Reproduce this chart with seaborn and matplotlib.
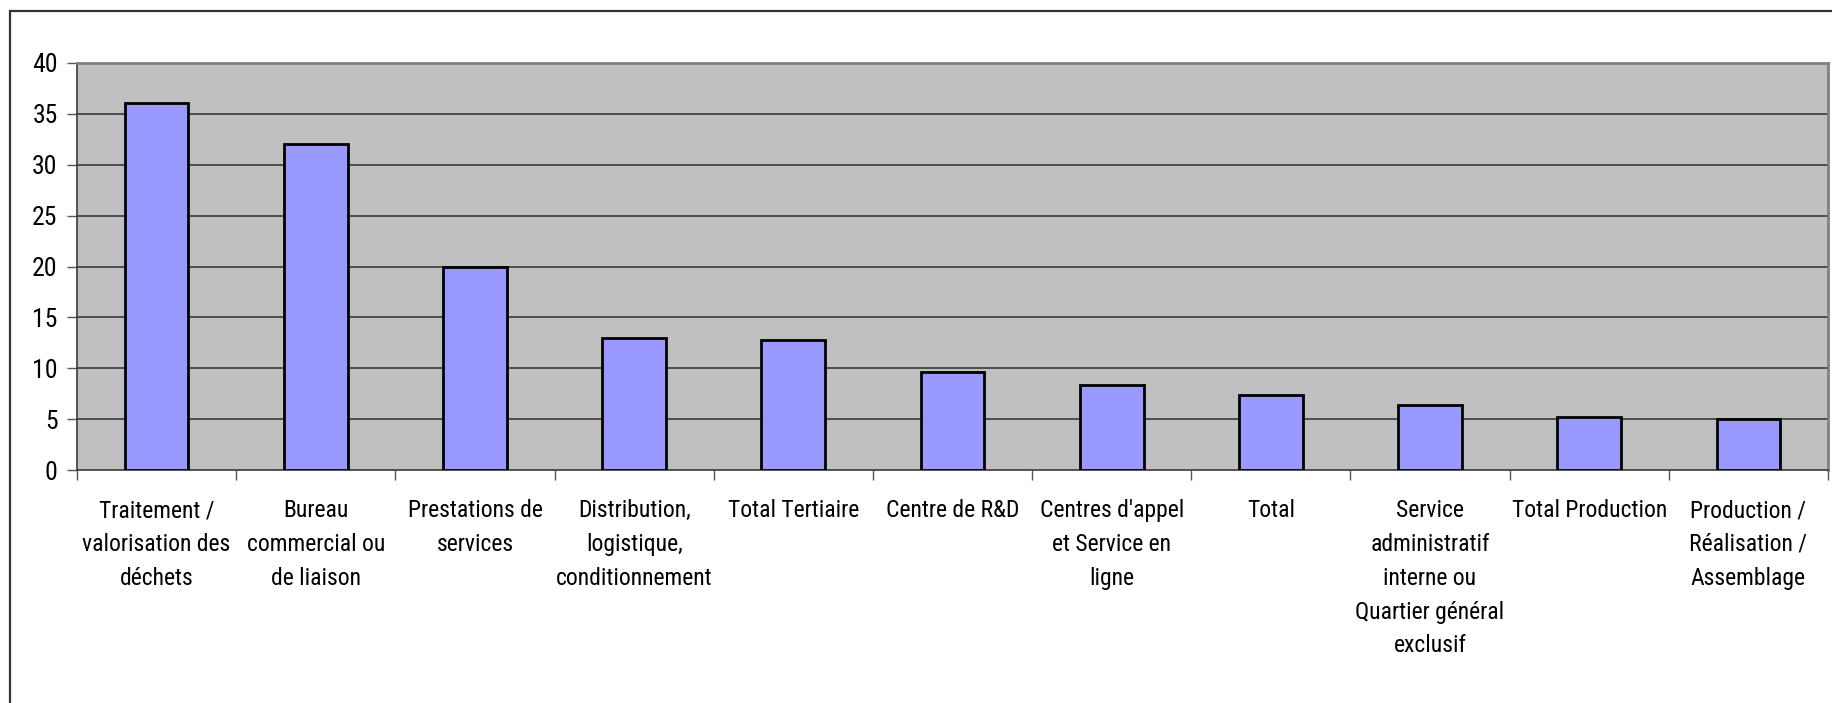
import numpy as np
import pandas as pd
import matplotlib
matplotlib.use("Agg")
import matplotlib.pyplot as plt
from matplotlib import font_manager
from matplotlib.patches import Rectangle
import seaborn as sns

# data
categories = [
    "Traitement / valorisation des déchets",
    "Bureau commercial ou de liaison",
    "Prestations de services",
    "Distribution, logistique, conditionnement",
    "Total Tertiaire",
    "Centre de R&D",
    "Centres d'appel et Service en ligne",
    "Total",
    "Service administratif interne ou Quartier général exclusif",
    "Total Production",
    "Production / Réalisation / Assemblage",
]
values = [36.1, 32.0, 20.0, 13.0, 12.8, 9.6, 8.4, 7.4, 6.4, 5.2, 5.0]

tick_labels = [
    "Traitement /\nvalorisation des\ndéchets",
    "Bureau\ncommercial ou\nde liaison",
    "Prestations de\nservices",
    "Distribution,\nlogistique,\nconditionnement",
    "Total Tertiaire",
    "Centre de R&D",
    "Centres d'appel\net Service en\nligne",
    "Total",
    "Service\nadministratif\ninterne ou\nQuartier général\nexclusif",
    "Total Production",
    "Production /\nRéalisation /\nAssemblage",
]
y_ticks = [0, 5, 10, 15, 20, 25, 30, 35, 40]

df = pd.DataFrame({"Categorie": categories, "Valeur": values})

# the original uses a narrow font; take a condensed one when installed
fonts = font_manager.fontManager.ttflist
names = {f.name for f in fonts}
stretch = "normal"
if "Liberation Sans Narrow" in names:
    font, fsize = "Liberation Sans Narrow", 17.5
elif "Roboto Condensed" in names:
    font, fsize = "Roboto Condensed", 17
elif any(f.name == "DejaVu Sans" and f.stretch == "condensed" for f in fonts):
    font, fsize, stretch = "DejaVu Sans", 15.5, "condensed"
else:
    font, fsize = "Liberation Sans", 15
plt.rcParams["font.family"] = [font, "DejaVu Sans"]
plt.rcParams["font.stretch"] = stretch

fig = plt.figure(figsize=(18.32, 7.03), dpi=100)
ax = fig.add_axes([77 / 1832, (703 - 470) / 703, (1828 - 77) / 1832, (470 - 63) / 703])

# outer chart border (goes off the right/bottom of the picture)
fig.patches.append(Rectangle((10 / 1832, -0.1), 1.2, (703 - 11) / 703 + 0.1,
                             transform=fig.transFigure, fill=False,
                             edgecolor="#333333", linewidth=1.6))

ax.set_facecolor("#C0C0C0")
sns.barplot(data=df, x="Categorie", y="Valeur", color="#9999FF", saturation=1,
            edgecolor="black", linewidth=2, width=0.4, ax=ax, zorder=3)

ax.set_ylim(0, 40)
ax.set_xlim(-0.5, len(categories) - 0.5)
ax.set_yticks(y_ticks)
ax.set_yticklabels([str(t) for t in y_ticks], fontsize=18.5)
for t in y_ticks[1:-1]:
    ax.axhline(t, color="#3a3a3a", linewidth=1.2, zorder=1)

# labels centred under bars, tick marks between categories
ax.set_xticks(range(len(categories)))
ax.set_xticklabels(tick_labels, fontsize=fsize, linespacing=1.6, va="top")
ax.set_xticks(np.arange(-0.5, len(categories), 1.0), minor=True)
ax.tick_params(axis="x", which="major", length=0, pad=21)
ax.tick_params(axis="x", which="minor", length=7, width=1, color="#555555", direction="out")
ax.tick_params(axis="y", length=7, width=1, color="#555555", pad=7)

ax.set_xlabel("")
ax.set_ylabel("")
for side in ["left", "bottom"]:
    ax.spines[side].set_color("#3a3a3a")
    ax.spines[side].set_linewidth(1.2)
for side in ["top", "right"]:
    ax.spines[side].set_color("#808080")
    ax.spines[side].set_linewidth(2)

fig.savefig("out.png", dpi=100)
